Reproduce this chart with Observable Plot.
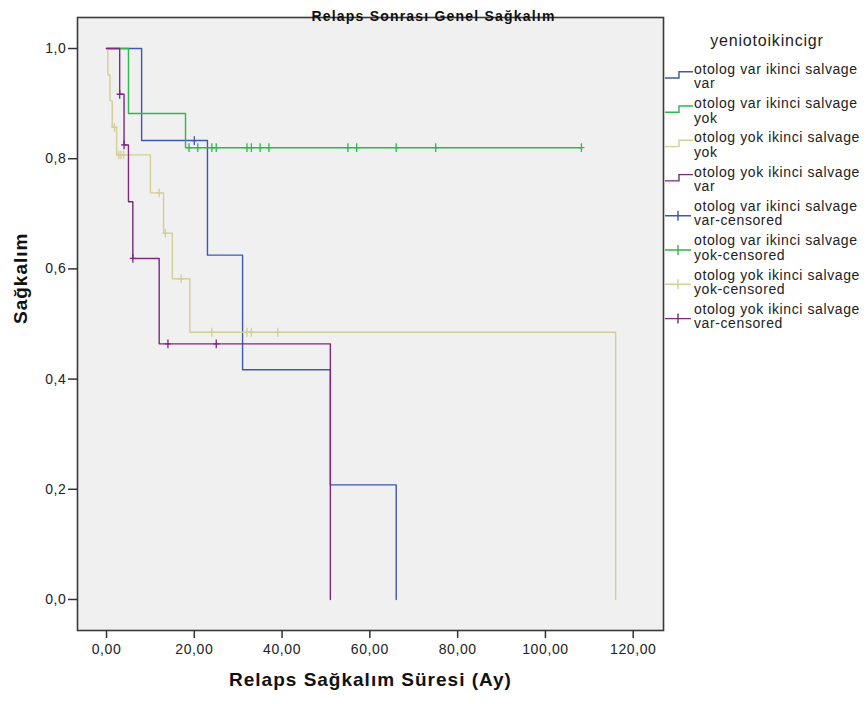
<!DOCTYPE html>
<html><head><meta charset="utf-8">
<script src="https://cdn.jsdelivr.net/npm/d3@7"></script>
<script src="https://cdn.jsdelivr.net/npm/@observablehq/plot@0.6"></script>
<style>
body{margin:0;background:#fff;}
#wrap{position:relative;width:868px;height:704px;overflow:hidden;}
#wrap svg{position:absolute;left:0;top:0;}
.lbl text{letter-spacing:1px}
.ttl text{letter-spacing:1.2px}
.ticks text{letter-spacing:0.6px}
</style></head><body><div id="wrap"></div>
<script>
const groups = ["otolog var ikinci salvage var","otolog var ikinci salvage yok","otolog yok ikinci salvage yok","otolog yok ikinci salvage var"];
const colors = ["#3E58AC","#2EB848","#D3CE97","#7C287D"];
const legendSecond = ["var","yok","yok","var"];

// Kaplan-Meier step points (time, survival) per group
const blueT = [0, 8, 23, 31, 51, 66];
const blueS = [1, 0.833, 0.625, 0.417, 0.208, 0];
const greenT = [0, 5, 18, 108.2];
const greenS = [1, 0.882, 0.82, 0.82];
const tanT = [0, 0.3, 0.8, 1.3, 2.3, 10, 13, 15, 19, 116];
const tanS = [1, 0.952, 0.905, 0.857, 0.807, 0.738, 0.665, 0.582, 0.485, 0];
const purpleT = [0, 3, 4, 5, 6, 12, 51];
const purpleS = [1, 0.917, 0.825, 0.722, 0.619, 0.464, 0];

// censored marks
const blueCT = [20];
const blueCS = [0.833];
const greenCT = [18.8, 20.8, 24, 25, 32, 33, 35, 37, 55, 57, 66, 75, 108.2];
const greenCS = [0.82,0.82,0.82,0.82,0.82,0.82,0.82,0.82,0.82,0.82,0.82,0.82,0.82];
const tanCT = [1.8, 2.8, 3.3, 3.9, 12, 13.4, 17, 24, 32, 33, 39];
const tanCS = [0.857, 0.807, 0.807, 0.807, 0.738, 0.665, 0.582, 0.485, 0.485, 0.485, 0.485];
const purpleCT = [3, 4, 6, 14, 25];
const purpleCS = [0.917, 0.825, 0.619, 0.464, 0.464];

const xTicks = [0, 20, 40, 60, 80, 100, 120];
const yTicks = [0, 0.2, 0.4, 0.6, 0.8, 1.0];

const stepT = [blueT, greenT, tanT, purpleT], stepS = [blueS, greenS, tanS, purpleS];
const cT = [blueCT, greenCT, tanCT, purpleCT], cS = [blueCS, greenCS, tanCS, purpleCS];
const steps = groups.flatMap((g,i)=>stepT[i].map((t,j)=>({group:g,t,s:stepS[i][j]})));
const cens = groups.flatMap((g,i)=>cT[i].map((t,j)=>({group:g,t,s:cS[i][j]})));

const plusSym = {draw(ctx, size){ const r=Math.sqrt(size/Math.PI); const h=r*1.1, w=r*0.75;
  ctx.moveTo(0,-h); ctx.lineTo(0,h); ctx.moveTo(-w,0); ctx.lineTo(w,0);} };

const comma = (f)=> d => d3.format(f)(d).replace(".", ",");

const chart = Plot.plot({
  width: 868, height: 704,
  marginTop: 17, marginLeft: 77, marginRight: 205, marginBottom: 74,
  style: {fontFamily: "'Liberation Sans', Arial, sans-serif", fontSize: "14px", color: "#222", background: "#fff"},
  x: {domain: [-6.61, 126.9], ticks: xTicks, tickFormat: comma(".2f"), label: null},
  y: {domain: [-0.0563, 1.0563], ticks: yTicks, tickFormat: comma(".1f"), label: null},
  color: {domain: groups, range: colors},
  marks: [
    Plot.frame({fill: "#f0f0f0"}),
    Plot.line(steps, {x:"t", y:"s", z:"group", stroke:"group", curve:"step-after", strokeWidth:1.4}),
    Plot.dot(cens, {x:"t", y:"s", stroke:"group", symbol: plusSym, r:4, strokeWidth:1.3}),
    Plot.frame({stroke: "#3a3a3a", strokeWidth: 1.6}),
    Plot.axisX({ticks: xTicks, tickFormat: comma(".2f"), tickSize: 8, tickPadding: 6, fontSize: 14, stroke: "#333", strokeWidth: 1.5, className: "ticks", label: null}),
    Plot.axisY({ticks: yTicks, tickFormat: comma(".1f"), tickSize: 9, tickPadding: 2, fontSize: 14, stroke: "#333", strokeWidth: 1.5, className: "ticks", label: null}),
    Plot.text([0], {frameAnchor: "bottom", dy: 55, text: () => "Relaps Sağkalım Süresi (Ay)", fontSize: 19, fontWeight: "bold", fill: "#111", className: "lbl"}),
    Plot.text([0], {frameAnchor: "left", dx: -57, rotate: -90, text: () => "Sağkalım", fontSize: 19, fontWeight: "bold", fill: "#111", className: "lbl"}),
    Plot.text([0], {frameAnchor: "top", dx: 63, dy: -6, text: () => "Relaps Sonrası Genel Sağkalım", fontSize: 14, fontWeight: "bold", fill: "#111", className: "ttl"})
  ]
});
const wrap = document.getElementById("wrap");
wrap.appendChild(chart);

// legend
const lg = d3.select(wrap).append("svg").attr("width", 868).attr("height", 704)
  .style("font-family", "'Liberation Sans', Arial, sans-serif").style("pointer-events","none");
lg.append("text").attr("x", 767).attr("y", 42).attr("text-anchor","middle").attr("dominant-baseline","middle")
  .attr("font-size", 16).attr("letter-spacing", "0.8px").attr("fill","#222").text("yeniotoikincigr");
const items = [];
groups.forEach((g,i)=>items.push({l1: g.replace(/ (var|yok)$/,""), l2: legendSecond[i], c: colors[i], cens:false}));
groups.forEach((g,i)=>items.push({l1: g.replace(/ (var|yok)$/,""), l2: legendSecond[i]+"-censored", c: colors[i], cens:true}));
items.forEach((it,k)=>{
  const y = 70 + k*34.3;
  const gg = lg.append("g");
  if (!it.cens) {
    gg.append("path").attr("d", `M665,${y+8}H679V${y+1.7}H693`).attr("fill","none").attr("stroke", it.c).attr("stroke-width",1.4);
  } else {
    gg.append("path").attr("d", `M665,${y+8.5}H691M678,${y+3.5}V${y+13.5}`).attr("fill","none").attr("stroke", it.c).attr("stroke-width",1.4);
  }
  gg.append("text").attr("x",694).attr("y",y).attr("dominant-baseline","middle").attr("font-size",14).attr("letter-spacing","0.6px").attr("fill","#222").text(it.l1);
  gg.append("text").attr("x",694).attr("y",y+14.5).attr("dominant-baseline","middle").attr("font-size",14).attr("letter-spacing","0.6px").attr("fill","#222").text(it.l2);
});
</script></body></html>
